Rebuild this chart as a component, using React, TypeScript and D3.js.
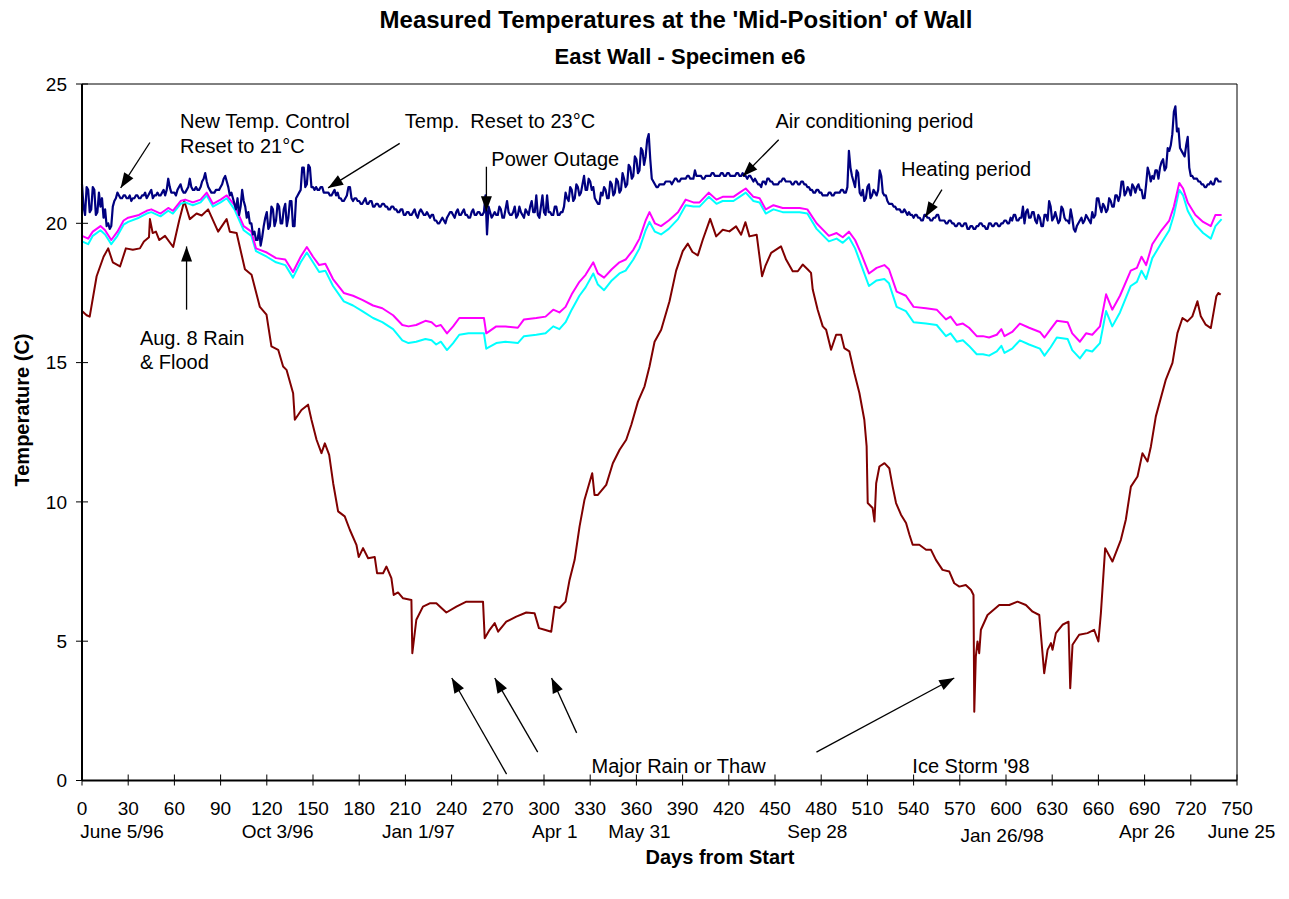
import * as d3 from "d3";

// ---- data ----
const xTicks = d3.range(0, 751, 30);
const yTicks = [0, 5, 10, 15, 20, 25];

const dateLabels = ["June 5/96", "Oct 3/96", "Jan 1/97", "Apr 1", "May 31", "Sep 28", "Jan 26/98", "Apr 26", "June 25"];
const dateLabelDays = [26, 127, 218.5, 307, 362, 477.5, 597.5, 691.6, 753];

// indoor air, one reading per day from day 0
const navyTemps = [
  21.4, 20.6, 20.3, 21.3, 21.2, 20.4, 20.5, 21.3, 21.2, 20.3, 20.4, 21.1, 20.6, 20.9, 20.2, 20.5, 19.9, 20.0, 19.8, 19.9,
  20.6, 20.8, 20.9, 21.1, 21.0, 20.9, 20.9, 21.0, 21.0, 20.9, 20.9, 21.0, 20.8, 20.9, 20.9, 21.0, 21.0, 20.9, 20.9, 21.0,
  21.0, 21.1, 20.9, 21.0, 21.1, 21.2, 20.9, 21.0, 21.0, 21.1, 21.0, 21.0, 21.1, 21.2, 21.0, 21.2, 21.6, 21.3, 21.1, 21.1,
  21.1, 21.0, 21.2, 21.3, 21.4, 21.2, 21.1, 21.1, 21.2, 21.3, 21.6, 21.3, 21.2, 21.2, 21.3, 21.2, 21.2, 21.3, 21.5, 21.6,
  21.8, 21.5, 21.3, 21.2, 21.1, 21.1, 21.1, 21.2, 21.2, 21.2, 21.3, 21.4, 21.6, 21.7, 21.5, 21.3, 21.0, 21.1, 20.9, 20.7,
  20.5, 20.9, 20.3, 20.6, 21.2, 20.8, 20.6, 20.2, 20.4, 20.0, 20.0, 19.6, 19.7, 19.4, 19.4, 19.8, 19.2, 19.5, 19.9, 20.2,
  20.4, 19.8, 19.9, 20.6, 20.5, 19.9, 20.1, 20.7, 20.6, 20.0, 20.0, 20.5, 20.7, 19.9, 20.2, 20.8, 20.8, 19.9, 19.9, 20.9,
  21.0, 21.1, 21.2, 22.0, 22.0, 21.3, 21.4, 22.1, 22.0, 21.3, 21.3, 21.2, 21.3, 21.2, 21.2, 21.3, 21.3, 21.1, 21.1, 21.1,
  21.1, 21.0, 21.0, 21.1, 21.2, 21.0, 21.1, 20.9, 20.9, 20.8, 20.8, 20.9, 21.0, 21.3, 21.3, 20.9, 20.8, 20.9, 20.9, 20.8,
  20.8, 20.7, 20.7, 20.8, 20.9, 20.7, 20.7, 20.8, 20.8, 20.6, 20.6, 20.7, 20.7, 20.6, 20.6, 20.7, 20.7, 20.6, 20.6, 20.5,
  20.5, 20.6, 20.6, 20.5, 20.5, 20.4, 20.4, 20.5, 20.5, 20.3, 20.3, 20.4, 20.4, 20.3, 20.3, 20.4, 20.5, 20.3, 20.2, 20.4,
  20.5, 20.4, 20.3, 20.3, 20.4, 20.3, 20.2, 20.3, 20.3, 20.1, 20.1, 20.0, 20.0, 20.1, 20.2, 20.1, 20.0, 20.2, 20.3, 20.4,
  20.4, 20.3, 20.2, 20.4, 20.5, 20.3, 20.3, 20.4, 20.5, 20.3, 20.3, 20.2, 20.2, 20.4, 20.5, 20.3, 20.3, 20.4, 20.4, 20.3,
  20.3, 20.4, 21.0, 19.6, 20.6, 20.4, 20.2, 20.3, 20.4, 20.3, 20.3, 20.6, 20.5, 20.2, 20.2, 20.5, 20.8, 20.4, 20.3, 20.3,
  20.4, 20.6, 20.2, 20.3, 20.6, 20.4, 20.3, 20.2, 20.5, 20.4, 20.3, 20.6, 20.8, 20.4, 20.4, 21.0, 20.3, 20.2, 20.6, 21.0,
  20.4, 20.3, 21.0, 20.4, 20.4, 20.3, 20.3, 20.6, 20.6, 20.3, 20.3, 20.4, 20.4, 20.6, 21.1, 20.9, 20.8, 21.3, 21.2, 20.8,
  20.9, 21.4, 21.3, 21.0, 21.1, 21.4, 21.7, 21.2, 21.2, 21.6, 21.5, 21.2, 21.3, 20.9, 20.8, 20.7, 20.7, 21.1, 21.0, 21.3,
  21.2, 20.9, 20.9, 21.5, 21.4, 21.0, 21.1, 21.6, 21.5, 21.1, 21.2, 21.8, 21.6, 21.3, 21.4, 22.1, 22.0, 21.6, 21.7, 22.4,
  22.3, 21.8, 21.9, 22.7, 22.6, 22.1, 22.4, 23.0, 23.2, 22.3, 21.6, 21.5, 21.4, 21.3, 21.3, 21.4, 21.4, 21.4, 21.4, 21.5,
  21.5, 21.5, 21.5, 21.4, 21.5, 21.6, 21.6, 21.5, 21.5, 21.6, 21.6, 21.6, 21.6, 21.7, 21.7, 21.6, 21.6, 21.6, 21.9, 21.7,
  21.7, 21.7, 21.7, 21.6, 21.6, 21.7, 21.7, 21.7, 21.7, 21.8, 21.8, 21.7, 21.7, 21.7, 21.7, 21.8, 21.8, 21.7, 21.7, 21.8,
  21.8, 21.7, 21.7, 21.7, 21.7, 21.8, 21.8, 21.7, 21.7, 21.8, 21.7, 21.7, 21.6, 21.7, 21.7, 21.6, 21.5, 21.6, 21.5, 21.4,
  21.4, 21.3, 21.5, 21.5, 21.4, 21.6, 21.6, 21.5, 21.5, 21.4, 21.4, 21.4, 21.4, 21.5, 21.5, 21.6, 21.6, 21.5, 21.5, 21.5,
  21.5, 21.4, 21.4, 21.5, 21.5, 21.4, 21.4, 21.5, 21.5, 21.4, 21.4, 21.3, 21.3, 21.2, 21.2, 21.1, 21.1, 21.2, 21.2, 21.1,
  21.1, 21.0, 21.0, 21.0, 21.0, 21.1, 21.1, 21.0, 21.0, 21.1, 21.1, 21.1, 21.1, 21.2, 21.2, 21.1, 21.1, 21.3, 22.6, 22.0,
  21.7, 21.5, 21.3, 21.9, 21.8, 21.1, 21.0, 21.2, 20.8, 20.9, 21.3, 21.4, 20.9, 21.0, 21.2, 21.1, 21.0, 21.2, 21.9, 21.7,
  21.1, 21.0, 21.0, 20.8, 20.7, 20.7, 20.7, 20.6, 20.6, 20.5, 20.5, 20.5, 20.4, 20.4, 20.5, 20.4, 20.3, 20.4, 20.3, 20.3,
  20.2, 20.3, 20.3, 20.2, 20.2, 20.1, 20.1, 20.3, 20.3, 20.2, 20.2, 20.1, 20.1, 20.2, 20.2, 20.3, 20.3, 20.1, 20.1, 20.1,
  20.1, 20.0, 20.0, 20.1, 20.1, 20.0, 20.0, 19.9, 19.9, 20.0, 20.0, 19.9, 19.9, 20.0, 20.0, 19.8, 19.8, 19.9, 19.9, 19.8,
  19.8, 19.9, 19.9, 20.0, 20.0, 19.9, 19.9, 19.8, 19.8, 20.0, 20.0, 19.9, 19.9, 20.0, 20.0, 19.9, 19.9, 20.0, 20.0, 20.1,
  20.1, 20.0, 20.0, 20.2, 20.1, 20.3, 20.3, 20.1, 20.1, 20.2, 20.2, 20.6, 20.0, 20.4, 20.5, 20.2, 20.2, 20.4, 20.4, 20.1,
  20.0, 20.3, 20.2, 19.9, 19.9, 20.3, 20.3, 20.1, 20.8, 20.6, 20.1, 20.2, 20.4, 20.2, 20.0, 20.1, 20.6, 20.5, 20.2, 20.1,
  20.1, 20.0, 20.5, 20.2, 19.8, 19.7, 19.9, 20.0, 20.1, 20.2, 20.0, 20.1, 20.3, 20.2, 20.1, 20.0, 20.4, 20.2, 20.3, 20.9,
  20.9, 20.6, 20.4, 20.7, 20.6, 20.4, 20.5, 20.9, 20.8, 20.6, 20.6, 21.0, 21.0, 20.8, 21.0, 21.5, 21.5, 21.0, 21.1, 21.3,
  21.2, 21.0, 21.4, 21.3, 21.1, 21.3, 21.4, 21.2, 21.2, 20.9, 20.9, 21.4, 22.0, 21.8, 21.5, 21.7, 21.6, 21.9, 21.9, 21.6,
  22.0, 22.2, 22.3, 21.9, 22.0, 22.7, 22.6, 22.8, 23.2, 24.0, 24.2, 23.3, 23.4, 22.7, 22.6, 22.5, 22.4, 22.8, 23.1, 22.0,
  21.7, 21.7, 21.6, 21.6, 21.6, 21.5, 21.5, 21.4, 21.4, 21.3, 21.3, 21.4, 21.4, 21.5, 21.4, 21.4, 21.6, 21.6, 21.5, 21.5,
  21.5,
];

// [day, temp]
const magenta: [number, number][] = [
  [0, 19.55], [4, 19.45], [7, 19.7], [12, 19.9], [15, 19.75], [19, 19.4], [23, 19.7], [27, 20.1],
  [30, 20.2], [37, 20.3], [42, 20.45], [45, 20.5], [51, 20.35], [56, 20.55], [59, 20.45], [64, 20.8],
  [67, 20.85], [72, 20.75], [77, 20.85], [81, 21.1], [85, 20.7], [90, 20.85], [94, 21.0], [99, 20.65],
  [105, 19.9], [110, 19.7], [113, 19.1], [120, 18.95], [126, 18.75], [132, 18.7], [137, 18.25], [142, 18.8],
  [146, 19.15], [150, 18.8], [154, 18.5], [158, 18.55], [163, 18.0], [170, 17.5], [176, 17.4], [182, 17.25],
  [189, 17.05], [195, 16.95], [202, 16.7], [208, 16.35], [212, 16.3], [217, 16.35], [223, 16.5], [227, 16.45],
  [230, 16.3], [233, 16.35], [237, 16.05], [241, 16.3], [245, 16.6], [251, 16.6], [261, 16.6], [262.5, 16.05],
  [269, 16.3], [275, 16.3], [283, 16.25], [287, 16.55], [295, 16.6], [301, 16.65], [306, 16.9], [310, 16.8],
  [314, 17.0], [318, 17.45], [323, 17.9], [327, 18.15], [332, 18.6], [335, 18.2], [339, 18.05], [344, 18.35],
  [349, 18.6], [353, 18.7], [358, 19.05], [362, 19.45], [366, 20.1], [368.5, 20.4], [372, 20.0], [376, 19.9],
  [381, 20.1], [387, 20.4], [392, 20.85], [397, 20.75], [401, 20.75], [407, 21.1], [412, 20.85], [416, 20.95],
  [423, 20.95], [427, 21.1], [431, 21.25], [436, 20.95], [440, 20.9], [444, 20.5], [449, 20.65], [455, 20.55],
  [462, 20.55], [466, 20.55], [471, 20.5], [477, 20.0], [485, 19.55], [490, 19.65], [494, 19.5], [498, 19.7],
  [502, 19.4], [506, 18.9], [511, 18.2], [516, 18.4], [521, 18.5], [524, 18.35], [529, 17.55], [535, 17.4],
  [540, 17.0], [548, 16.95], [555, 16.9], [561, 16.55], [564, 16.65], [568, 16.35], [572, 16.4], [576, 16.25],
  [581, 15.95], [585, 15.95], [589, 15.9], [594, 16.0], [597, 16.2], [599, 15.95], [604, 16.1], [609, 16.4],
  [615, 16.25], [622, 16.1], [625, 15.9], [629, 16.2], [633, 16.5], [640, 16.45], [643, 16.05], [648, 15.75],
  [652, 16.05], [656, 16.0], [661, 16.3], [665, 17.45], [669, 16.9], [674, 17.4], [681, 18.3], [685, 18.4],
  [688, 18.8], [691, 18.5], [695, 19.25], [701, 19.75], [706, 20.1], [709, 20.6], [712.5, 21.45], [715, 21.25],
  [718, 20.75], [723, 20.3], [728, 20.05], [733, 19.9], [736, 20.3], [740, 20.3],
];

const cyan: [number, number][] = [
  [0, 19.35], [4, 19.25], [7, 19.55], [12, 19.75], [15, 19.6], [19, 19.25], [23, 19.55], [27, 19.95],
  [30, 20.05], [37, 20.2], [42, 20.35], [45, 20.4], [51, 20.25], [56, 20.45], [59, 20.35], [64, 20.7],
  [67, 20.75], [72, 20.65], [77, 20.75], [81, 21.0], [85, 20.6], [90, 20.75], [94, 20.9], [99, 20.5],
  [105, 19.75], [110, 19.55], [113, 19.0], [120, 18.8], [126, 18.6], [132, 18.5], [137, 18.05], [142, 18.6],
  [146, 18.95], [150, 18.6], [154, 18.25], [158, 18.3], [163, 17.75], [170, 17.2], [176, 17.05], [182, 16.85],
  [189, 16.6], [195, 16.45], [202, 16.2], [208, 15.8], [212, 15.7], [217, 15.75], [223, 15.85], [227, 15.8],
  [230, 15.65], [233, 15.75], [237, 15.45], [241, 15.7], [245, 16.0], [251, 16.05], [261, 16.05], [262.5, 15.5],
  [269, 15.7], [275, 15.75], [283, 15.7], [287, 15.95], [295, 16.0], [301, 16.05], [306, 16.3], [310, 16.2],
  [314, 16.45], [318, 16.9], [323, 17.4], [327, 17.7], [332, 18.2], [335, 17.8], [339, 17.6], [344, 17.95],
  [349, 18.2], [353, 18.3], [358, 18.7], [362, 19.1], [366, 19.75], [368.5, 20.05], [372, 19.7], [376, 19.6],
  [381, 19.8], [387, 20.15], [392, 20.65], [397, 20.6], [401, 20.6], [407, 20.95], [412, 20.7], [416, 20.8],
  [423, 20.8], [427, 20.95], [431, 21.1], [436, 20.8], [440, 20.75], [444, 20.35], [449, 20.5], [455, 20.4],
  [462, 20.4], [466, 20.4], [471, 20.35], [477, 19.8], [485, 19.35], [490, 19.45], [494, 19.3], [498, 19.5],
  [502, 19.1], [506, 18.5], [511, 17.75], [516, 17.95], [521, 18.0], [524, 17.85], [529, 17.0], [535, 16.85],
  [540, 16.45], [548, 16.4], [555, 16.35], [561, 15.95], [564, 16.05], [568, 15.75], [572, 15.8], [576, 15.6],
  [581, 15.3], [585, 15.3], [589, 15.25], [594, 15.4], [597, 15.6], [599, 15.35], [604, 15.5], [609, 15.8],
  [615, 15.65], [622, 15.5], [625, 15.25], [629, 15.55], [633, 15.9], [640, 15.85], [643, 15.45], [648, 15.15],
  [652, 15.45], [656, 15.4], [661, 15.7], [665, 16.85], [669, 16.3], [674, 16.8], [681, 17.75], [685, 17.9],
  [688, 18.3], [691, 18.0], [695, 18.75], [701, 19.3], [706, 19.75], [709, 20.3], [712.5, 21.2], [715, 21.0],
  [718, 20.45], [723, 19.95], [728, 19.65], [733, 19.45], [736, 19.9], [740, 20.15],
];

const maroon: [number, number][] = [
  [0, 16.85], [3, 16.7], [5, 16.65], [9.5, 18.1], [14, 18.8], [17, 19.1], [20, 18.6], [24.7, 18.45],
  [28.5, 19.1], [33, 19.05], [37.6, 19.1], [40.2, 19.35], [43.5, 19.5], [44.1, 20.15], [45.9, 19.65], [48, 19.7],
  [50.2, 19.4], [53.9, 19.55], [59.2, 19.15], [63.1, 20.1], [66.4, 20.8], [70, 20.15], [74.4, 20.35], [77.7, 20.28],
  [81.9, 20.5], [88.4, 19.7], [93.9, 20.15], [96, 19.7], [100.4, 19.65], [105.8, 18.35], [110.1, 18.15], [115.5, 17.0],
  [119.8, 16.72], [123, 15.58], [127.4, 15.46], [130.6, 14.86], [132.8, 14.74], [137.1, 13.9], [138.2, 12.95], [142.5, 13.3],
  [146.8, 13.49], [149, 12.95], [152.3, 12.23], [155.5, 11.75], [157.7, 12.1], [160.5, 11.69], [163.1, 10.67], [166.3, 9.66],
  [170.6, 9.48], [173.9, 9.0], [178.2, 8.46], [179.7, 8.02], [182.5, 8.34], [185.8, 7.98], [190.1, 8.02], [191.6, 7.44],
  [195.5, 7.44], [197.7, 7.68], [200.9, 7.26], [202.4, 6.66], [205.2, 6.75], [208.5, 6.54], [213.9, 6.48], [214.5, 4.57],
  [217.1, 5.77], [221.4, 6.24], [225.8, 6.36], [230.1, 6.36], [233.4, 6.19], [236.6, 6.03], [243.1, 6.24], [249.6, 6.42],
  [260.4, 6.42], [261.5, 5.11], [264.7, 5.41], [268, 5.65], [270.2, 5.34], [275.5, 5.7], [282, 5.88], [288.5, 6.03],
  [293.9, 6.0], [296.7, 5.47], [300.4, 5.41], [304.7, 5.34], [306.9, 6.24], [310.1, 6.19], [314, 6.42], [316.6, 7.2],
  [319.9, 7.92], [323.1, 9.12], [326.3, 10.08], [331.3, 11.03], [332.8, 10.25], [335, 10.25], [340.4, 10.61], [344.7, 11.39],
  [349.1, 11.87], [353.4, 12.23], [356.7, 12.77], [361, 13.6], [365.3, 14.15], [368.5, 14.86], [371.8, 15.75], [376.1, 16.18],
  [381.5, 17.2], [385.8, 18.3], [390.1, 19.0], [393.4, 19.27], [396.4, 18.97], [399.9, 18.85], [403.1, 19.41], [407.9, 20.16],
  [411.8, 19.53], [416.1, 19.77], [420.4, 19.71], [424.7, 19.89], [428, 19.59], [430.8, 20.04], [433.4, 19.53], [438.1, 19.59],
  [441.6, 18.1], [443.7, 18.46], [447.5, 18.94], [453.9, 19.17], [457.2, 18.7], [461.5, 18.28], [464.8, 18.28], [468, 18.52],
  [471.3, 18.34], [473.4, 18.22], [474.5, 17.62], [477.7, 16.9], [481, 16.3], [483.2, 16.18], [486.4, 15.46], [489.7, 16.0],
  [492.9, 16.0], [495, 15.52], [498.3, 15.4], [501.5, 14.63], [504.8, 13.91], [508, 12.95], [509.5, 11.99], [510.2, 9.96],
  [513.4, 9.78], [514.6, 9.3], [515.7, 10.67], [517.8, 11.27], [521.1, 11.39], [524.2, 11.21], [526.4, 10.55], [528.6, 9.96],
  [531.8, 9.54], [535.1, 9.24], [537.3, 8.82], [539.4, 8.46], [543.7, 8.46], [548.1, 8.28], [551.3, 8.28], [554.5, 7.92],
  [558.8, 7.56], [563.2, 7.5], [566.4, 7.08], [569.7, 6.96], [573.9, 7.02], [577.3, 6.84], [578.9, 6.66], [579.4, 2.47],
  [580.4, 4.45], [581.5, 4.99], [582.6, 4.57], [583.7, 5.41], [588, 5.94], [595.6, 6.3], [602.1, 6.3], [607.5, 6.42],
  [612.9, 6.3], [617.3, 6.06], [621.6, 5.94], [624.8, 3.85], [627, 4.69], [629.2, 4.93], [630.2, 4.69], [632.4, 5.29],
  [636.7, 5.59], [640.6, 5.7], [641.7, 3.31], [643.2, 4.87], [647.5, 5.23], [652.9, 5.29], [657.2, 5.41], [660, 4.99],
  [661.6, 6.0], [664.4, 8.34], [669.1, 7.86], [674.6, 8.64], [677.8, 9.36], [681.1, 10.55], [685.4, 10.91], [688.6, 11.75],
  [691.9, 11.45], [694.1, 11.99], [697.3, 13.07], [703.8, 14.39], [708.1, 14.99], [711.3, 16.06], [714.6, 16.6], [717.8, 16.48],
  [721, 16.66], [724.3, 17.2], [726.5, 16.66], [729.7, 16.36], [733, 16.24], [735.1, 16.9], [736.6, 17.38], [737.9, 17.5],
  [739.4, 17.44],
];

// annotations in data units: text lines start at [day, temp]
const notes = [
  { lines: ["New Temp. Control", "Reset to 21°C"], at: [63.6, 23.42] },
  { lines: ["Temp.  Reset to 23°C"], at: [209.6, 23.43] },
  { lines: ["Power Outage"], at: [265.8, 22.07] },
  { lines: ["Air conditioning period"], at: [450.3, 23.43] },
  { lines: ["Heating period"], at: [531.8, 21.69] },
  { lines: ["Aug. 8 Rain", "& Flood"], at: [37.6, 15.64] },
  { lines: ["Major Rain or Thaw"], at: [330.9, 0.27] },
  { lines: ["Ice Storm '98"], at: [539.2, 0.27] },
];

// arrows: [fromDay, fromTemp, toDay, toTemp]
const arrows = [
  [44.1, 22.9, 25.1, 21.27],
  [206.3, 22.87, 159.8, 21.27],
  [262.6, 22.03, 262.6, 20.43],
  [452.4, 23.0, 429.1, 21.69],
  [558.4, 21.21, 547.6, 20.23],
  [67.9, 16.9, 67.9, 19.17],
  [275.7, 0.23, 240.1, 3.68],
  [295.9, 1.02, 268, 3.68],
  [321.2, 1.71, 304.9, 3.68],
  [476.9, 1.02, 566.4, 3.68],
];

const W = 1289;
const H = 899;
const M = { left: 82, right: 1237, top: 84, bottom: 780.5 };
const FONT = "'Liberation Sans', Arial, sans-serif";

const arrowHead = (x1: number, y1: number, x2: number, y2: number) => {
  const a = Math.atan2(y2 - y1, x2 - x1);
  const len = 15;
  const hw = 5.5;
  const bx = x2 - len * Math.cos(a);
  const by = y2 - len * Math.sin(a);
  const px = -Math.sin(a) * hw;
  const py = Math.cos(a) * hw;
  return `M${x2},${y2}L${bx + px},${by + py}L${bx - px},${by - py}Z`;
};

const App = () => {
  const x = d3.scaleLinear().domain([0, 750]).range([M.left, M.right]);
  const y = d3.scaleLinear().domain([0, 25]).range([M.bottom, M.top]);
  const line = d3
    .line<[number, number]>()
    .x((d) => x(d[0]))
    .y((d) => y(d[1]));

  const navy: [number, number][] = navyTemps.map((t, i) => [i, t]);

  const series = [
    { data: maroon, color: "#800000", w: 2 },
    { data: cyan, color: "#00ffff", w: 2 },
    { data: magenta, color: "#ff00ff", w: 2 },
    { data: navy, color: "#000080", w: 2.2 },
  ];

  return (
    <svg
      width={W}
      height={H}
      style={{ position: "absolute", left: 0, top: 0, background: "#fff" }}
      fontFamily={FONT}
    >
      <rect width={W} height={H} fill="#fff" />
      <text x={676} y={28} textAnchor="middle" fontSize={24} fontWeight="bold">
        Measured Temperatures at the 'Mid-Position' of Wall
      </text>
      <text x={680} y={64} textAnchor="middle" fontSize={22} fontWeight="bold">
        East Wall - Specimen e6
      </text>

      {/* frame */}
      <line x1={M.left} x2={M.right} y1={M.top} y2={M.top} stroke="#000" strokeWidth={1} />
      <line x1={M.right} x2={M.right} y1={M.top} y2={M.bottom} stroke="#000" strokeWidth={1} />

      {series.map((s, i) => (
        <path key={i} d={line(s.data) ?? ""} fill="none" stroke={s.color} strokeWidth={s.w} strokeLinejoin="round" />
      ))}

      {/* axes */}
      <line x1={M.left} x2={M.left} y1={M.top} y2={M.bottom} stroke="#000" strokeWidth={2} />
      <line x1={M.left} x2={M.right} y1={M.bottom} y2={M.bottom} stroke="#000" strokeWidth={2} />
      {yTicks.map((t) => (
        <g key={t}>
          <line x1={M.left - 6} x2={M.left + 6} y1={y(t)} y2={y(t)} stroke="#000" strokeWidth={1} />
          <text x={M.left - 15} y={y(t)} dy="0.35em" textAnchor="end" fontSize={19}>
            {t}
          </text>
        </g>
      ))}
      {xTicks.map((t) => (
        <g key={t}>
          <line x1={x(t)} x2={x(t)} y1={M.bottom - 6} y2={M.bottom + 5} stroke="#000" strokeWidth={1} />
          <text x={x(t)} y={815} textAnchor="middle" fontSize={19}>
            {t}
          </text>
        </g>
      ))}
      {dateLabels.map((l, i) => (
        <text key={l} x={x(dateLabelDays[i])} y={l === "Jan 26/98" ? 842 : 838} textAnchor="middle" fontSize={19}>
          {l}
        </text>
      ))}
      <text x={720} y={864} textAnchor="middle" fontSize={20} fontWeight="bold">
        Days from Start
      </text>
      <text transform="translate(29,410) rotate(-90)" textAnchor="middle" fontSize={20} fontWeight="bold">
        Temperature (C)
      </text>

      {/* annotations */}
      {notes.map((n, i) => (
        <text key={i} x={x(n.at[0])} y={y(n.at[1])} fontSize={20} style={{ whiteSpace: "pre" }}>
          {n.lines.map((l, j) => (
            <tspan key={j} x={x(n.at[0])} dy={j === 0 ? 0 : 24.5}>
              {l}
            </tspan>
          ))}
        </text>
      ))}
      {arrows.map((a, i) => {
        const x1 = x(a[0]);
        const y1 = y(a[1]);
        const x2 = x(a[2]);
        const y2 = y(a[3]);
        return (
          <g key={i}>
            <line x1={x1} y1={y1} x2={x2} y2={y2} stroke="#000" strokeWidth={1.3} />
            <path d={arrowHead(x1, y1, x2, y2)} fill="#000" />
          </g>
        );
      })}
    </svg>
  );
};

export default App;
